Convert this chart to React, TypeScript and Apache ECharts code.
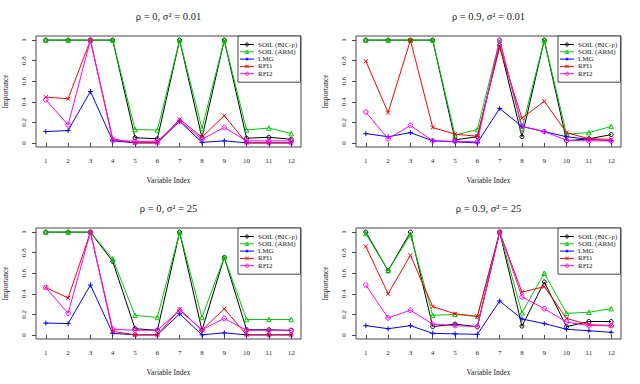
import React, { useEffect, useRef } from "react";
import * as echarts from "echarts";

const variables = [1, 2, 3, 4, 5, 6, 7, 8, 9, 10, 11, 12];
const yTicks = [0, 0.2, 0.4, 0.6, 0.8, 1];
const seriesNames = ["SOIL (BIC-p)", "SOIL (ARM)", "LMG", "RFI1", "RFI2"];
const panelTitles = ["ρ = 0, σ² = 0.01", "ρ = 0.9, σ² = 0.01", "ρ = 0, σ² = 25", "ρ = 0.9, σ² = 25"];

// Panel 1: rho = 0, sigma^2 = 0.01
const p1Bic = [1, 1, 1, 1, 0.05, 0.04, 1, 0.05, 1, 0.045, 0.055, 0.035];
const p1Arm = [1, 1, 1, 1, 0.13, 0.125, 1, 0.14, 1, 0.125, 0.145, 0.09];
const p1Lmg = [0.11, 0.12, 0.5, 0.02, 0, 0, 0.21, 0.005, 0.02, 0, 0, 0];
const p1Rfi1 = [0.445, 0.43, 1, 0.04, 0, 0, 0.23, 0.055, 0.265, 0, 0, 0];
const p1Rfi2 = [0.42, 0.175, 1, 0.025, 0.015, 0.015, 0.215, 0.035, 0.15, 0.02, 0.02, 0.02];

// Panel 2: rho = 0.9, sigma^2 = 0.01
const p2Bic = [1, 1, 1, 1, 0.03, 0.06, 0.95, 0.06, 1, 0.02, 0.04, 0.08];
const p2Arm = [1, 1, 1, 1, 0.075, 0.13, 1, 0.14, 1, 0.085, 0.1, 0.16];
const p2Lmg = [0.09, 0.06, 0.1, 0.02, 0.01, 0, 0.335, 0.16, 0.11, 0.06, 0.035, 0.02];
const p2Rfi1 = [0.795, 0.295, 1, 0.15, 0.085, 0.065, 0.93, 0.24, 0.405, 0.1, 0.04, 0.035];
const p2Rfi2 = [0.3, 0.04, 0.17, 0.02, 0.015, 0.01, 1, 0.16, 0.11, 0.025, 0.02, 0.02];

// Panel 3: rho = 0, sigma^2 = 25
const p3Bic = [1, 1, 1, 0.715, 0.06, 0.045, 1, 0.045, 0.755, 0.05, 0.05, 0.043];
const p3Arm = [1, 1, 1, 0.74, 0.19, 0.17, 1, 0.17, 0.755, 0.15, 0.15, 0.15];
const p3Lmg = [0.115, 0.11, 0.485, 0.015, 0, 0, 0.205, 0, 0.02, 0, 0, 0];
const p3Rfi1 = [0.46, 0.36, 1, 0.035, 0, 0, 0.25, 0.045, 0.255, 0, 0, 0];
const p3Rfi2 = [0.46, 0.21, 1, 0.055, 0.045, 0.045, 0.24, 0.05, 0.16, 0.045, 0.045, 0.045];

// Panel 4: rho = 0.9, sigma^2 = 25
const p4Bic = [1, 0.625, 1, 0.08, 0.105, 0.08, 1, 0.085, 0.515, 0.08, 0.13, 0.13];
const p4Arm = [0.985, 0.625, 0.975, 0.19, 0.2, 0.18, 1, 0.215, 0.6, 0.21, 0.22, 0.255];
const p4Lmg = [0.09, 0.06, 0.09, 0.015, 0.01, 0.005, 0.33, 0.155, 0.11, 0.055, 0.04, 0.025];
const p4Rfi1 = [0.86, 0.4, 0.775, 0.275, 0.205, 0.18, 1, 0.415, 0.47, 0.16, 0.1, 0.09];
const p4Rfi2 = [0.485, 0.165, 0.24, 0.105, 0.09, 0.08, 1, 0.37, 0.255, 0.125, 0.09, 0.09];

const panels = [
  [p1Bic, p1Arm, p1Lmg, p1Rfi1, p1Rfi2],
  [p2Bic, p2Arm, p2Lmg, p2Rfi1, p2Rfi2],
  [p3Bic, p3Arm, p3Lmg, p3Rfi1, p3Rfi2],
  [p4Bic, p4Arm, p4Lmg, p4Rfi1, p4Rfi2],
];

const colors = ["#000000", "#00cc00", "#0000ff", "#ff0000", "#ff00ff"];
const symbols = [
  "circle",
  "path://M5,0L10,9L0,9Z",
  "path://M5,0L5,10M0,5L10,5",
  "path://M0,0L10,10M10,0L0,10",
  "circle",
];
const symbolSizes = [4, 4.5, 5, 4, 4.5];
const FONT = "Liberation Serif";

export default function App() {
  const ref = useRef<HTMLDivElement>(null);
  useEffect(() => {
    if (!ref.current) return;
    const chart = echarts.init(ref.current, null, { renderer: "svg" });
    const lefts = [36, 356];
    const tops = [36, 228];
    const W = 265;
    const H = 111;
    const grids: any[] = [];
    const xAxes: any[] = [];
    const yAxes: any[] = [];
    const titles: any[] = [];
    const legends: any[] = [];
    const series: any[] = [];
    panels.forEach((panel, pi) => {
      const left = lefts[pi % 2];
      const top = tops[Math.floor(pi / 2)];
      grids.push({ left, top, width: W, height: H, show: true, borderColor: "#444", borderWidth: 1, backgroundColor: "transparent" });
      xAxes.push({
        type: "value",
        gridIndex: pi,
        min: 0.56,
        max: 12.44,
        axisLine: { show: false },
        splitLine: { show: false },
        axisTick: { show: true, customValues: variables, length: 4, lineStyle: { color: "#444" } },
        axisLabel: { customValues: variables, margin: 10.5, fontSize: 7, fontFamily: FONT, color: "#222" },
        name: "Variable Index",
        nameLocation: "middle",
        nameGap: 29,
        nameTextStyle: { fontSize: 7.5, fontFamily: FONT, color: "#222" },
      });
      yAxes.push({
        type: "value",
        gridIndex: pi,
        min: -0.04,
        max: 1.04,
        axisLine: { show: false },
        splitLine: { show: false },
        axisTick: { show: true, customValues: yTicks, length: 4, lineStyle: { color: "#444" } },
        axisLabel: { customValues: yTicks, rotate: 90, margin: 9, fontSize: 7, fontFamily: FONT, color: "#222" },
        name: "Importance",
        nameLocation: "middle",
        nameGap: 27,
        nameTextStyle: { fontSize: 7.5, fontFamily: FONT, color: "#222" },
      });
      titles.push({
        text: panelTitles[pi],
        left: left + W / 2,
        textAlign: "center",
        top: top - 25,
        padding: 0,
        textStyle: { fontSize: 10.5, fontWeight: "normal", fontFamily: FONT, color: "#222" },
      });
      legends.push({
        data: seriesNames.map((n, si) => ({
          name: n,
          itemStyle: {
            color: si === 2 || si === 3 ? colors[si] : "rgba(255,255,255,0)",
            borderColor: colors[si],
            borderWidth: 1,
          },
        })),
        orient: "vertical",
        left: left + W - 63,
        top: top,
        itemWidth: 14,
        itemHeight: 4,
        itemGap: 0.3,
        padding: [5, 3, 5, 1.5],
        borderColor: "#444",
        borderWidth: 1,
        backgroundColor: "#fff",
        itemStyle: { borderWidth: 1 },
        lineStyle: { width: 1 },
        textStyle: { fontSize: 7, fontFamily: FONT, color: "#222", lineHeight: 7, padding: [0, 0, 0, -1] },
      });
      panel.forEach((vals, si) => {
        const c = colors[si];
        const filled = si === 2 || si === 3;
        series.push({
          type: "line",
          name: seriesNames[si],
          xAxisIndex: pi,
          yAxisIndex: pi,
          data: variables.map((v, i) => [v, vals[i]]),
          color: c,
          symbol: symbols[si],
          symbolSize: symbolSizes[si],
          showAllSymbol: true,
          lineStyle: { color: c, width: 1 },
          itemStyle: { color: filled ? c : "rgba(255,255,255,0)", borderColor: c, borderWidth: 1 },
          emphasis: { disabled: true },
          z: 2 + si,
        });
      });
    });
    chart.setOption({
      animation: false,
      backgroundColor: "#fff",
      title: titles,
      grid: grids,
      xAxis: xAxes,
      yAxis: yAxes,
      legend: legends,
      series,
    });
    return () => chart.dispose();
  }, []);
  return <div ref={ref} style={{ position: "absolute", left: 0, top: 0, width: 640, height: 384 }} />;
}
